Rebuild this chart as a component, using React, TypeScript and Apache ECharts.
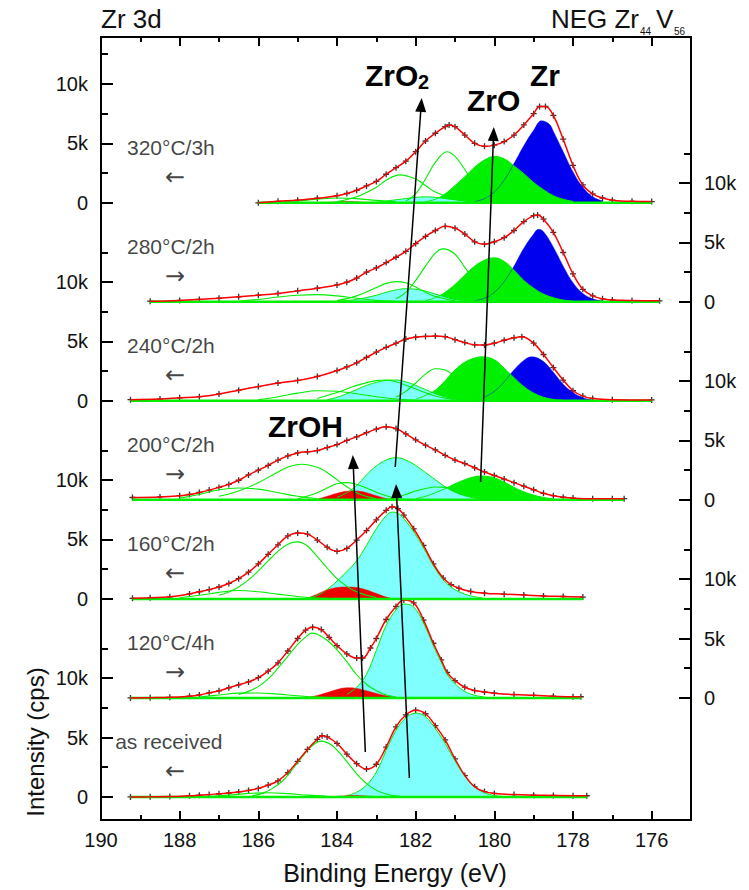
import React, { useEffect, useRef } from 'react';
import * as echarts from 'echarts';

type Pt = [number, number];

// ---------- axes ----------
const energyMajorTicks = [190, 188, 186, 184, 182, 180, 178, 176];
const energyMinorTicks = [189, 187, 185, 183, 181, 179, 177];
const layerMajorTicks = [0, 5, 10]; // k cps inside each stacked layer
const layerMinorTicks = [2.5, 7.5, 12.5];
const layerTickLabels = ['0', '5k', '10k'];
const leftLayers = [0, 2, 4, 6];
const rightLayers = [1, 3, 5];

// ---------- spectra (binding energy eV, intensity k cps) ----------
const spectrumNames = ['as received', '120°C/4h', '160°C/2h', '200°C/2h', '240°C/2h', '280°C/2h', '320°C/3h'];
const scanDirections = ['←', '→', '←', '→', '←', '→', '←'];

// as received
const asRecFit: Pt[] = [[189.25,0],[188.75,0.01],[188.25,0.03],[187.75,0.1],[187.5,0.15],[187.25,0.2],[187,0.27],[186.75,0.33],[186.5,0.42],[186.25,0.55],[186,0.72],[185.75,1.0],[185.5,1.35],[185.25,2.05],[185,3.0],[184.75,4.0],[184.5,4.85],[184.38,5.15],[184.25,5.05],[184,4.5],[183.75,3.6],[183.5,2.8],[183.25,2.35],[183,2.75],[182.75,4.2],[182.5,5.9],[182.25,6.9],[182,7.3],[181.75,7.0],[181.5,6.0],[181.25,4.8],[181,3.2],[180.75,1.8],[180.5,0.85],[180.25,0.45],[180,0.3],[179.5,0.2],[179,0.15],[178.5,0.12],[178,0.1],[177.65,0.1]];
const asRecZrO2: Pt[] = [[183.75,0.1],[183.5,0.4],[183.25,1.0],[183,2.1],[182.75,3.9],[182.5,5.6],[182.25,6.65],[182,7.05],[181.75,6.75],[181.5,5.75],[181.25,4.5],[181,3.05],[180.75,1.75],[180.5,0.85],[180.25,0.35],[180,0.12],[179.75,0.03]];
const asRecZrOH: Pt[] = [[184.1,0.02],[183.85,0.08],[183.6,0.12],[183.35,0.1],[183.1,0.05],[182.85,0.01]];
const asRecO1: Pt[] = [[186.15,0.1],[185.9,0.3],[185.65,0.7],[185.4,1.3],[185.15,2.25],[184.9,3.3],[184.65,4.25],[184.4,4.7],[184.15,4.39],[183.9,3.59],[183.65,2.56],[183.4,1.59],[183.15,0.87],[182.9,0.41],[182.65,0.17],[182.4,0.06]];
const asRecO2: Pt[] = [[187.25,0.03],[186.75,0.15],[186.25,0.3],[185.75,0.35],[185.25,0.28],[184.75,0.15],[184.25,0.05]];

// 120°C/4h
const r120Fit: Pt[] = [[189.25,0],[188.75,0.02],[188.25,0.05],[187.75,0.15],[187.5,0.25],[187.25,0.42],[187,0.6],[186.75,0.85],[186.5,1.1],[186.25,1.35],[186,1.7],[185.75,2.25],[185.5,2.95],[185.25,3.95],[185,5.0],[184.8,5.7],[184.62,5.95],[184.4,5.75],[184.2,5.1],[184,4.4],[183.75,3.7],[183.5,3.35],[183.35,3.35],[183.15,4.2],[183,5.0],[182.75,6.6],[182.5,7.7],[182.3,8.25],[182.05,8.0],[181.8,6.55],[181.55,4.6],[181.35,3.2],[181.2,2.15],[181,1.45],[180.75,0.9],[180.5,0.62],[180.25,0.5],[180,0.4],[179.5,0.28],[179,0.22],[178.5,0.15],[178,0.1],[177.8,0.1]];
const r120ZrO2: Pt[] = [[183.75,0.3],[183.5,0.9],[183.25,2.0],[183,4.0],[182.75,6.1],[182.5,7.4],[182.3,7.9],[182.05,7.65],[181.8,6.3],[181.55,4.4],[181.35,3.0],[181.2,2.0],[181,1.2],[180.75,0.55],[180.5,0.22],[180.25,0.08]];
const r120ZrOH: Pt[] = [[184.75,0.05],[184.5,0.2],[184.25,0.45],[184,0.7],[183.75,0.85],[183.5,0.8],[183.25,0.6],[183,0.38],[182.75,0.18],[182.5,0.06]];
const r120O1: Pt[] = [[186.5,0.3],[186.25,0.55],[186,0.95],[185.75,1.6],[185.5,2.5],[185.25,3.5],[185,4.5],[184.75,5.25],[184.65,5.45],[184.5,5.35],[184.25,4.85],[184,4.05],[183.75,3.05],[183.5,1.95],[183.25,1.15],[183,0.6],[182.75,0.25],[182.5,0.08]];
const r120O2: Pt[] = [[187.5,0.08],[187,0.25],[186.5,0.4],[186,0.42],[185.5,0.32],[185,0.18],[184.5,0.07],[184,0.02]];

// 160°C/2h
const r160Fit: Pt[] = [[189.2,0.05],[188.75,0.1],[188.25,0.18],[187.75,0.42],[187.5,0.6],[187.25,0.78],[187,1.0],[186.75,1.3],[186.5,1.7],[186.25,2.25],[186,2.95],[185.75,3.75],[185.5,4.55],[185.25,5.3],[185,5.55],[184.75,5.45],[184.5,4.95],[184.25,4.35],[184,4.0],[183.75,4.25],[183.5,4.95],[183.25,5.75],[183,6.65],[182.75,7.45],[182.6,7.75],[182.45,7.6],[182.3,7.05],[182.05,5.9],[181.8,4.5],[181.55,2.95],[181.3,1.75],[181.1,1.2],[180.9,0.9],[180.6,0.62],[180.25,0.48],[179.75,0.4],[179.25,0.33],[178.75,0.25],[178.25,0.2],[177.75,0.15]];
const r160ZrO2: Pt[] = [[184.75,0.1],[184.5,0.3],[184.25,0.8],[184,1.5],[183.75,2.3],[183.5,3.2],[183.25,4.5],[183,5.9],[182.75,7.0],[182.6,7.3],[182.45,7.2],[182.3,6.75],[182.05,5.65],[181.8,4.3],[181.55,2.8],[181.3,1.6],[181.1,1.0],[180.9,0.6],[180.6,0.25],[180.3,0.08]];
const r160ZrOH: Pt[] = [[184.75,0.05],[184.5,0.4],[184.25,0.75],[184,0.95],[183.75,1.0],[183.5,0.95],[183.25,0.75],[183,0.45],[182.75,0.15],[182.6,0.03]];
const r160O1: Pt[] = [[187,0.3],[186.75,0.58],[186.5,1.0],[186.25,1.6],[186,2.35],[185.75,3.2],[185.5,4.0],[185.25,4.6],[185,4.8],[184.75,4.45],[184.5,3.55],[184.25,2.6],[184,1.7],[183.75,1.05],[183.5,0.6],[183.25,0.3],[183,0.12]];
const r160O2: Pt[] = [[188,0.1],[187.5,0.3],[187,0.55],[186.5,0.7],[186,0.6],[185.5,0.4],[185,0.2],[184.5,0.07],[184,0.02]];

// 200°C/2h
const r200Fit: Pt[] = [[189.2,0.2],[188.5,0.25],[188,0.35],[187.75,0.45],[187.5,0.62],[187.25,0.82],[187,1.05],[186.75,1.3],[186.5,1.65],[186.25,2.1],[186,2.5],[185.75,2.9],[185.5,3.35],[185.25,3.7],[185,3.95],[184.75,4.05],[184.5,4.15],[184.25,4.4],[184,4.65],[183.75,5.0],[183.5,5.3],[183.25,5.65],[183,5.95],[182.75,6.15],[182.5,6.0],[182.25,5.55],[182,5.05],[181.75,4.6],[181.5,4.2],[181.25,3.75],[181,3.35],[180.75,3.05],[180.5,2.7],[180.25,2.35],[180,2.05],[179.75,1.75],[179.5,1.45],[179.25,1.15],[179,0.85],[178.75,0.55],[178.5,0.35],[178.25,0.22],[178,0.15],[177.5,0.1],[177,0.1],[176.7,0.1]];
const r200ZrO2: Pt[] = [[184,0.2],[183.75,0.6],[183.5,1.2],[183.25,2.1],[183,2.85],[182.75,3.35],[182.5,3.55],[182.25,3.35],[182,2.9],[181.75,2.3],[181.5,1.7],[181.25,1.1],[181,0.65],[180.75,0.35],[180.5,0.15],[180.25,0.05]];
const r200ZrO: Pt[] = [[182,0.1],[181.75,0.3],[181.5,0.6],[181.25,0.95],[181,1.35],[180.75,1.7],[180.5,1.95],[180.3,2.0],[180,1.85],[179.75,1.5],[179.5,1.05],[179.25,0.68],[179,0.4],[178.75,0.2],[178.5,0.08]];
const r200ZrOH: Pt[] = [[184.5,0.05],[184.25,0.3],[184,0.55],[183.75,0.72],[183.5,0.75],[183.25,0.6],[183,0.35],[182.75,0.12],[182.5,0.03]];
const r200O1: Pt[] = [[187,0.3],[186.5,0.75],[186,1.45],[185.5,2.35],[185.25,2.75],[184.9,3.0],[184.5,2.75],[184.25,2.3],[184,1.7],[183.75,1.1],[183.5,0.6],[183.25,0.28],[183,0.1]];
const r200O2: Pt[] = [[188,0.15],[187.5,0.45],[187,0.85],[186.5,1.0],[186,0.9],[185.5,0.6],[185,0.3],[184.5,0.1]];
const r200O3: Pt[] = [[185,0.1],[184.5,0.6],[184.25,1.0],[184,1.35],[183.75,1.45],[183.5,1.3],[183.25,1.0],[183,0.65],[182.75,0.35],[182.5,0.15],[182.25,0.05]];
const r200O4: Pt[] = [[182.75,0.05],[182.5,0.2],[182.25,0.45],[182,0.75],[181.75,0.95],[181.5,1.08],[181.25,1.05],[181,0.85],[180.75,0.55],[180.5,0.3],[180.25,0.12],[180,0.04]];

// 240°C/2h
const r240Fit: Pt[] = [[189.25,0.1],[188.5,0.15],[188,0.25],[187.5,0.35],[187,0.58],[186.5,0.9],[186,1.2],[185.5,1.5],[185,1.72],[184.5,2.05],[184,2.55],[183.75,2.85],[183.5,3.2],[183.25,3.65],[183,4.1],[182.75,4.5],[182.5,4.85],[182.25,5.2],[182,5.35],[181.75,5.42],[181.5,5.45],[181.25,5.4],[181,5.15],[180.75,4.9],[180.5,4.72],[180.25,4.7],[180,4.85],[179.75,5.1],[179.5,5.3],[179.3,5.4],[179,4.85],[178.75,3.9],[178.5,2.8],[178.25,1.75],[178,0.85],[177.75,0.4],[177.5,0.2],[177,0.1],[176,0.08]];
const r240ZrO2: Pt[] = [[184.25,0.1],[184,0.3],[183.75,0.6],[183.5,0.95],[183.25,1.3],[183,1.55],[182.75,1.72],[182.5,1.75],[182.25,1.6],[182,1.3],[181.75,0.95],[181.5,0.6],[181.25,0.32],[181,0.15],[180.75,0.05]];
const r240Zr: Pt[] = [[180.25,0.3],[180,0.8],[179.75,1.6],[179.5,2.6],[179.25,3.4],[179.05,3.7],[178.75,3.3],[178.5,2.4],[178.25,1.4],[178,0.7],[177.75,0.25],[177.5,0.07]];
const r240ZrO: Pt[] = [[182,0.15],[181.75,0.45],[181.5,0.9],[181.25,1.7],[181,2.6],[180.75,3.25],[180.5,3.6],[180.3,3.7],[180,3.45],[179.75,2.75],[179.5,1.95],[179.25,1.2],[179,0.65],[178.75,0.3],[178.5,0.12],[178.25,0.04]];
const r240O1: Pt[] = [[182.5,0.3],[182.25,0.8],[182,1.5],[181.75,2.25],[181.5,2.7],[181.25,2.6],[181,2.05],[180.75,1.3],[180.5,0.65],[180.25,0.25],[180,0.08]];
const r240O2: Pt[] = [[186,0.1],[185.5,0.35],[185,0.65],[184.5,0.85],[184,0.8],[183.5,0.6],[183,0.35],[182.5,0.15],[182,0.05]];
const r240O3: Pt[] = [[184.5,0.2],[184,0.7],[183.5,1.3],[183,1.7],[182.75,1.75],[182.5,1.6],[182,1.0],[181.5,0.4],[181,0.1]];

// 280°C/2h
const r280Fit: Pt[] = [[188.75,0.05],[188,0.12],[187.5,0.2],[187,0.3],[186.5,0.42],[186,0.55],[185.5,0.7],[185,0.92],[184.5,1.15],[184,1.42],[183.75,1.65],[183.5,2.0],[183.25,2.5],[183,2.85],[182.75,3.3],[182.5,3.75],[182.25,4.25],[182,4.9],[181.75,5.5],[181.5,6.0],[181.25,6.35],[181,6.2],[180.75,5.7],[180.5,5.05],[180.25,4.85],[180,5.05],[179.75,5.4],[179.5,6.0],[179.25,6.75],[179,7.25],[178.9,7.3],[178.75,6.95],[178.5,5.85],[178.25,4.15],[178,2.35],[177.75,1.05],[177.5,0.5],[177.25,0.25],[177,0.15],[176.5,0.1],[175.8,0.08]];
const r280ZrO2: Pt[] = [[184,0.05],[183.5,0.2],[183,0.55],[182.75,0.8],[182.5,1.0],[182.25,1.1],[182,1.05],[181.75,0.9],[181.5,0.65],[181.25,0.4],[181,0.2],[180.75,0.08]];
const r280Zr: Pt[] = [[180.5,0.1],[180.25,0.3],[180,0.8],[179.75,1.7],[179.5,3.0],[179.25,4.5],[179,5.7],[178.88,6.1],[178.75,5.9],[178.5,4.6],[178.25,3.0],[178,1.6],[177.75,0.7],[177.5,0.25],[177.25,0.07]];
const r280ZrO: Pt[] = [[181.75,0.1],[181.5,0.35],[181.25,0.8],[181,1.45],[180.75,2.25],[180.5,3.0],[180.25,3.5],[180,3.7],[179.75,3.4],[179.5,2.65],[179.25,1.8],[179,1.15],[178.75,0.65],[178.5,0.35],[178.25,0.15],[178,0.05]];
const r280O1: Pt[] = [[182.5,0.25],[182.25,0.8],[182,1.8],[181.75,3.0],[181.5,4.1],[181.3,4.45],[181,4.0],[180.75,2.9],[180.5,1.75],[180.25,0.85],[180,0.35],[179.75,0.1]];
const r280O2: Pt[] = [[184,0.1],[183.5,0.5],[183,1.2],[182.75,1.55],[182.5,1.7],[182.25,1.6],[182,1.25],[181.75,0.8],[181.5,0.45],[181,0.1]];
const r280O3: Pt[] = [[186.5,0.05],[186,0.2],[185.5,0.4],[185,0.55],[184.5,0.6],[184,0.5],[183.5,0.3],[183,0.12],[182.5,0.04]];

// 320°C/3h
const r320Fit: Pt[] = [[186,0],[185.5,0.12],[185,0.22],[184.5,0.38],[184,0.6],[183.75,0.78],[183.5,1.05],[183.25,1.42],[183,1.8],[182.75,2.4],[182.5,2.95],[182.25,3.5],[182,4.3],[181.75,5.2],[181.5,5.85],[181.25,6.4],[181.15,6.55],[181,6.4],[180.75,5.7],[180.5,5.0],[180.25,4.75],[180,4.85],[179.75,5.15],[179.5,5.7],[179.25,6.55],[179,7.5],[178.85,8.1],[178.7,8.1],[178.5,7.35],[178.25,5.35],[178,3.15],[177.75,1.5],[177.5,0.75],[177.25,0.4],[177,0.22],[176.5,0.12],[176,0.1]];
const r320ZrO2: Pt[] = [[183,0.05],[182.5,0.25],[182,0.45],[181.75,0.5],[181.5,0.45],[181,0.25],[180.5,0.08]];
const r320Zr: Pt[] = [[180.5,0.1],[180.25,0.35],[180,0.9],[179.75,1.9],[179.5,3.3],[179.25,4.8],[179,6.1],[178.8,6.9],[178.6,6.6],[178.5,6.0],[178.25,4.3],[178,2.6],[177.75,1.3],[177.5,0.5],[177.25,0.15]];
const r320ZrO: Pt[] = [[181.75,0.1],[181.5,0.3],[181.25,0.75],[181,1.45],[180.75,2.2],[180.5,3.0],[180.25,3.6],[180,3.9],[179.75,3.7],[179.5,3.1],[179.25,2.45],[179,1.7],[178.75,1.1],[178.5,0.6],[178.25,0.3],[178,0.12]];
const r320ZrOH: Pt[] = [[184.25,0.02],[184,0.08],[183.75,0.1],[183.5,0.08],[183.25,0.03]];
const r320O1: Pt[] = [[182.25,0.15],[182,0.75],[181.75,2.0],[181.5,3.4],[181.2,4.3],[181,3.9],[180.75,2.8],[180.5,1.5],[180.25,0.6],[180,0.2]];
const r320O2: Pt[] = [[184,0.1],[183.5,0.5],[183,1.3],[182.75,1.9],[182.4,2.35],[182,2.0],[181.75,1.45],[181.5,0.9],[181,0.3],[180.5,0.08]];
const r320O3: Pt[] = [[185.5,0.05],[185,0.15],[184.5,0.3],[184,0.4],[183.5,0.35],[183,0.2],[182.5,0.08]];

// guide arrows (start, tip) in (eV, stacked k cps)
const arrowZrO2Lower: Pt[] = [[182.16, 1.6], [182.49, 25.75]];
const arrowZrO2Upper: Pt[] = [[182.52, 27.77], [181.86, 58.23]];
const arrowZrO: Pt[] = [[180.35, 26.5], [180.02, 55.79]];
const arrowZrOH: Pt[] = [[183.28, 3.79], [183.59, 28.19]];

// ---------- layout / style ----------
const FONT = 'Liberation Sans, Arial, Helvetica, sans-serif';
const TEXT = '#111';
const STEP = 8.3333;
const Y_MIN = -1.94;
const Y_MAX = 63.95;
const C_ZRO2 = '#80FFFF';
const C_ZR = '#0000EE';
const C_ZRO = '#00F000';
const C_ZROH = '#EE0000';
const C_LINE = '#00EE00';
const C_FIT = '#FF0000';

interface Spectrum {
  fit: Pt[]; zro2?: Pt[]; zr?: Pt[]; zro?: Pt[]; zroh?: Pt[]; others: Pt[][];
}
const spectra: Spectrum[] = [
  { fit: asRecFit, zro2: asRecZrO2, zroh: asRecZrOH, others: [asRecO1, asRecO2] },
  { fit: r120Fit, zro2: r120ZrO2, zroh: r120ZrOH, others: [r120O1, r120O2] },
  { fit: r160Fit, zro2: r160ZrO2, zroh: r160ZrOH, others: [r160O1, r160O2] },
  { fit: r200Fit, zro2: r200ZrO2, zro: r200ZrO, zroh: r200ZrOH, others: [r200O1, r200O2, r200O3, r200O4] },
  { fit: r240Fit, zro2: r240ZrO2, zr: r240Zr, zro: r240ZrO, others: [r240O1, r240O2, r240O3] },
  { fit: r280Fit, zro2: r280ZrO2, zr: r280Zr, zro: r280ZrO, others: [r280O1, r280O2, r280O3] },
  { fit: r320Fit, zro2: r320ZrO2, zr: r320Zr, zro: r320ZrO, zroh: r320ZrOH, others: [r320O1, r320O2, r320O3] },
];

const r4 = (v: number) => Math.round(v * 10000) / 10000;
const lift = (pts: Pt[], o: number) => pts.map(([e, v]) => [e, r4(v + o)]);

function areaSeries(pts: Pt[], o: number, fill: string, line: string, lw: number) {
  return {
    type: 'line', data: lift(pts, o), smooth: 0.4, symbol: 'none', silent: true,
    xAxisIndex: 0, yAxisIndex: 0,
    lineStyle: { color: line, width: lw },
    areaStyle: { color: fill, opacity: 1, origin: o },
  };
}
function curveSeries(pts: Pt[], o: number, color: string, lw: number, smooth: number | boolean = 0.4) {
  return {
    type: 'line', data: lift(pts, o), smooth, symbol: 'none', silent: true,
    xAxisIndex: 0, yAxisIndex: 0,
    lineStyle: { color, width: lw },
  };
}

function layerTicks(layers: number[], locals: number[]) {
  return layers.flatMap((i) => locals.map((t) => r4(i * STEP + t)));
}
const tickLabelMap = new Map<string, string>();
for (let i = 0; i < spectra.length; i++) {
  layerMajorTicks.forEach((t, j) => tickLabelMap.set(r4(i * STEP + t).toFixed(3), layerTickLabels[j]));
}
const yFormatter = (v: number) => tickLabelMap.get(Number(v).toFixed(3)) ?? '';

function xAxis(position: string, ticks: number[], len: number, labels: boolean) {
  return {
    type: 'value', min: 175, max: 190, inverse: true, position, gridIndex: 0,
    axisLine: { show: true, onZero: false, lineStyle: { color: '#000', width: 2 } },
    axisTick: { show: true, inside: true, length: len, customValues: ticks, lineStyle: { color: '#000', width: 2 } },
    axisLabel: labels
      ? { show: true, customValues: ticks, fontSize: 20, fontFamily: FONT, color: TEXT, margin: 10 }
      : { show: false },
    splitLine: { show: false },
  };
}
function yAxis(position: string, ticks: number[], len: number, labels: boolean) {
  return {
    type: 'value', min: Y_MIN, max: Y_MAX, position, gridIndex: 0,
    axisLine: { show: true, onZero: false, lineStyle: { color: '#000', width: 2 } },
    axisTick: { show: true, inside: true, length: len, customValues: ticks, lineStyle: { color: '#000', width: 2 } },
    axisLabel: labels
      ? { show: true, customValues: ticks, formatter: yFormatter, fontSize: 20, fontFamily: FONT, color: TEXT, margin: 13 }
      : { show: false },
    splitLine: { show: false },
  };
}

function buildOption() {
  const series: any[] = [];
  spectra.forEach((s, i) => {
    const o = r4(i * STEP);
    if (s.zr) series.push(areaSeries(s.zr, o, C_ZR, C_ZR, 0.5));
    if (s.zro) series.push(areaSeries(s.zro, o, C_ZRO, C_LINE, 1));
    if (s.zro2) series.push(areaSeries(s.zro2, o, C_ZRO2, C_LINE, 1));
    if (s.zroh) series.push(areaSeries(s.zroh, o, C_ZROH, C_ZROH, 0.5));
    s.others.forEach((p) => series.push(curveSeries(p, o, C_LINE, 1.1)));
    const first = s.fit[0][0];
    const last = s.fit[s.fit.length - 1][0];
    series.push(curveSeries([[first, 0], [last, 0]], o, C_LINE, 2.5, false));
    series.push(curveSeries(s.fit, o, C_FIT, 1.5));
    series.push({
      type: 'scatter', data: lift(s.fit, o), silent: true, xAxisIndex: 0, yAxisIndex: 0,
      symbol: 'path://M0,4L8,4M4,0L4,8', symbolSize: 6,
      itemStyle: { color: 'transparent', borderColor: '#000', borderWidth: 1.3 },
    });
  });

  // sample labels and scan-direction arrows
  series.push({
    type: 'scatter', silent: true, symbolSize: 0, xAxisIndex: 0, yAxisIndex: 0,
    data: spectrumNames.map((n, i) => ({ value: [i === 0 ? 189.64 : 189.34, r4(i * STEP + 4.63)], name: n })),
    label: { show: true, position: 'right', distance: 0, formatter: '{b}', fontSize: 21, fontFamily: FONT, color: TEXT },
  });
  series.push({
    type: 'scatter', silent: true, symbolSize: 0, xAxisIndex: 0, yAxisIndex: 0,
    data: scanDirections.map((d, i) => ({ value: [188.12, r4(i * STEP + 2.2)], name: d })),
    label: { show: true, position: 'inside', formatter: '{b}', fontSize: 24, fontFamily: 'DejaVu Sans', color: TEXT },
  });

  // guide arrows
  const arrows = [arrowZrO2Lower, arrowZrO2Upper, arrowZrO, arrowZrOH];
  series.push({
    type: 'line', data: [], silent: true, xAxisIndex: 0, yAxisIndex: 0, z: 10,
    markLine: {
      silent: true, animation: false, symbol: ['none', 'triangle'], symbolSize: [11, 14],
      label: { show: false }, emphasis: { disabled: true },
      lineStyle: { color: '#000', width: 1.5, type: 'solid', opacity: 1 },
      data: arrows.map((a) => [{ coord: a[0] }, { coord: a[1] }]),
    },
  });

  const bold = (text: string, x: number, y: number, size = 30) => ({
    type: 'text', x, y, silent: true,
    style: { text, fontSize: size, fontWeight: 'bold', fontFamily: FONT, fill: '#000', textAlign: 'left', textVerticalAlign: 'middle' },
  });
  const plain = (text: string, x: number, y: number, size: number, align = 'left', extra: any = {}) => ({
    type: 'text', x, y, silent: true, ...extra,
    style: { text, fontSize: size, fontFamily: FONT, fill: TEXT, textAlign: align, textVerticalAlign: 'middle' },
  });

  return {
    animation: false,
    backgroundColor: '#fff',
    grid: { left: 101, right: 58, top: 37, bottom: 70, containLabel: false, outerBoundsMode: 'none' },
    xAxis: [
      xAxis('bottom', energyMajorTicks, 9, true),
      xAxis('bottom', energyMinorTicks, 5, false),
      xAxis('top', energyMajorTicks, 9, false),
      xAxis('top', energyMinorTicks, 5, false),
    ],
    yAxis: [
      yAxis('left', layerTicks(leftLayers, layerMajorTicks), 12, true),
      yAxis('left', layerTicks(leftLayers, layerMinorTicks), 7, false),
      yAxis('right', layerTicks(rightLayers, layerMajorTicks), 12, true),
      yAxis('right', layerTicks(rightLayers, layerMinorTicks), 7, false),
    ],
    series,
    graphic: [
      plain('Zr 3d', 101, 19, 26),
      plain('NEG Zr', 639, 19, 26, 'right'),
      plain('44', 640, 31, 10),
      plain('V', 656, 19, 26),
      plain('56', 674, 31, 10),
      bold('ZrO', 365, 75),
      bold('2', 418, 82, 20),
      bold('ZrO', 467, 100),
      bold('Zr', 530, 75),
      bold('ZrOH', 268, 426),
      plain('Binding Energy (eV)', 395, 873, 25, 'center'),
      plain('Intensity (cps)', 35, 742, 24, 'center', { rotation: Math.PI / 2 }),
    ],
  };
}

export default function App() {
  const ref = useRef<HTMLDivElement>(null);
  useEffect(() => {
    if (!ref.current) return;
    const chart = echarts.init(ref.current, undefined, { renderer: 'svg' });
    chart.setOption(buildOption() as any);
    return () => chart.dispose();
  }, []);
  return (
    <div
      ref={ref}
      style={{ position: 'absolute', left: 0, top: 0, width: 749, height: 890, background: '#fff' }}
    />
  );
}
